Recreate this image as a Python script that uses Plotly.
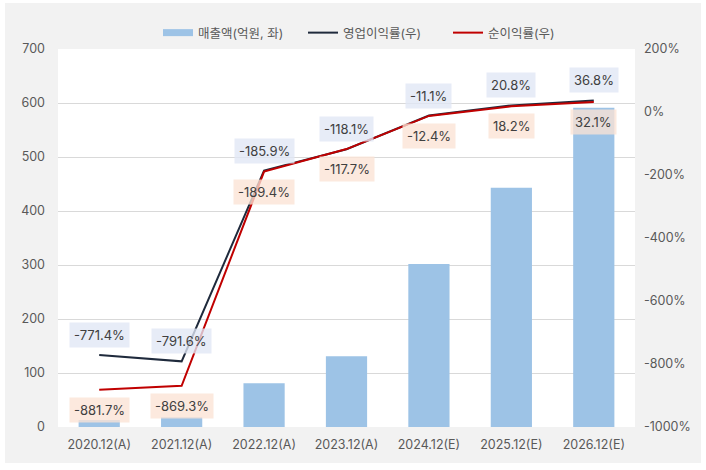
import plotly.graph_objects as go

categories = ["2020.12(A)", "2021.12(A)", "2022.12(A)", "2023.12(A)",
              "2024.12(E)", "2025.12(E)", "2026.12(E)"]
sales = [13, 18, 81, 131, 302, 443, 591]
op_margin = [-771.4, -791.6, -185.9, -118.1, -11.1, 20.8, 36.8]
net_margin = [-881.7, -869.3, -189.4, -117.7, -12.4, 18.2, 32.1]

left_ticks = [0, 100, 200, 300, 400, 500, 600, 700]
right_ticks = [-1000, -800, -600, -400, -200, 0, 200]
right_tick_labels = ["-1000%", "-800%", "-600%", "-400%", "-200%", "0%", "200%"]

BAR_C = "#9dc3e6"
OP_C = "#1f2a3c"
NET_C = "#c00000"
FONT = "Inter, Noto Sans CJK KR, sans-serif"
TICK_C = "#595959"

fig = go.Figure()
fig.add_trace(go.Bar(x=categories, y=sales, name="매출액(억원, 좌)",
                     marker=dict(color=BAR_C, line=dict(width=0)),
                     width=0.5, showlegend=False))
# legend swatch for bars (wide rectangle)
fig.add_trace(go.Scatter(x=[None], y=[None], mode="lines", name="매출액(억원, 좌)",
                         line=dict(color=BAR_C, width=7)))
fig.add_trace(go.Scatter(x=categories, y=op_margin, name="영업이익률(우)", yaxis="y2",
                         mode="lines", line=dict(color=OP_C, width=2)))
fig.add_trace(go.Scatter(x=categories, y=net_margin, name="순이익률(우)", yaxis="y2",
                         mode="lines", line=dict(color=NET_C, width=2)))

anns = []
for c, v in zip(categories, op_margin):
    anns.append(dict(x=c, y=v, xref="x", yref="y2", text=f"{v:.1f}%",
                     showarrow=False, yshift=20, yanchor="middle",
                     bgcolor="rgba(224,231,245,0.78)", borderpad=4,
                     font=dict(family=FONT, size=13, color="#404040")))
for c, v in zip(categories, net_margin):
    anns.append(dict(x=c, y=v, xref="x", yref="y2", text=f"{v:.1f}%",
                     showarrow=False, yshift=-20, yanchor="middle",
                     bgcolor="rgba(251,227,213,0.78)", borderpad=4,
                     font=dict(family=FONT, size=13, color="#404040")))

W, H = 706, 470
L, R, T, B = 58, 71, 49, 43
pw, ph = W - L - R, H - T - B

def px_x(p):
    return (p - L) / pw

def px_y(p):
    return (H - B - p) / ph

shapes = [
    dict(type="rect", xref="paper", yref="paper", layer="below",
         x0=px_x(5), x1=px_x(701), y0=px_y(463), y1=px_y(3),
         fillcolor="#f2f2f2", line=dict(width=0)),
    dict(type="rect", xref="paper", yref="paper", layer="below",
         x0=0, x1=1, y0=0, y1=1, fillcolor="white", line=dict(width=0)),
]

fig.update_layout(
    width=W, height=H,
    margin=dict(l=L, r=R, t=T, b=B, autoexpand=False),
    paper_bgcolor="white", plot_bgcolor="white",
    font=dict(family=FONT, size=12, color=TICK_C),
    showlegend=True,
    legend=dict(orientation="h", x=px_x(158), xanchor="left", y=px_y(33), yanchor="middle",
                font=dict(family=FONT, size=12.5, color=TICK_C),
                bgcolor="rgba(0,0,0,0)", itemwidth=30, traceorder="normal",
                entrywidth=100, entrywidthmode="pixels"),
    xaxis=dict(type="category", categoryorder="array", categoryarray=categories,
               showgrid=False, showline=False, zeroline=False,
               tickfont=dict(family=FONT, size=12.5, color=TICK_C), ticks="",
               ticklabelstandoff=8),
    yaxis=dict(range=[0, 700], tickvals=left_ticks, showgrid=True, gridcolor="#d9d9d9",
               gridwidth=1, zeroline=False, showline=False, ticks="",
               tickfont=dict(family=FONT, size=12.5, color=TICK_C),
               ticklabelstandoff=12),
    yaxis2=dict(range=[-1000, 200], tickvals=right_ticks, ticktext=right_tick_labels,
                overlaying="y", side="right", showgrid=False, zeroline=False,
                showline=False, ticks="",
                tickfont=dict(family=FONT, size=12.5, color=TICK_C),
                ticklabelstandoff=8),
    annotations=anns,
    shapes=shapes,
)

fig.write_html("out.html", config={"displayModeBar": False},
               post_script="document.body.style.margin='0';")
